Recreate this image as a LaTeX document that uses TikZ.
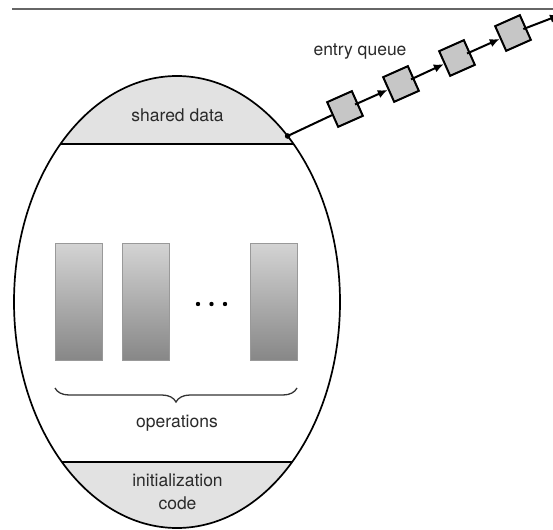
\documentclass[tikz,border=0pt]{standalone}
\usepackage{fontspec}
\setmainfont{TeX Gyre Heros}
\usetikzlibrary{arrows.meta,decorations.pathreplacing,calc}
\definecolor{capfill}{HTML}{E2E2E2}
\definecolor{qfill}{HTML}{C6C6C6}
\definecolor{txt}{HTML}{2A2A2A}
\begin{document}
\begin{tikzpicture}[x=1pt,y=-1pt,
  lbl/.style={font=\fontsize{17.5}{22.5}\selectfont, text=txt, inner sep=0pt, anchor=base},
  qbox/.style={draw=black, line width=2pt, fill=qfill, minimum size=27pt, inner sep=0pt, rotate=24},
  opbox/.style={draw=black!40, line width=0.6pt, top color=black!17, bottom color=black!47, minimum width=47pt, minimum height=117pt, inner sep=0pt},
  qline/.style={line width=2pt},
  qarrow/.style={qline, -{Latex[length=10pt,width=8.5pt]}},
  capline/.style={line width=1.5pt},
]
\useasboundingbox (0,0) rectangle (553,529);
% top rule
\draw[black!60, line width=1.4pt] (12,9) -- (553,9);
% monitor body
\begin{scope}
  \clip (177,302) ellipse [x radius=163, y radius=226];
  \fill[capfill] (0,0) rectangle (553,144);
  \fill[capfill] (0,462) rectangle (553,529);
  \draw[capline] (0,144) -- (553,144);
  \draw[capline] (0,462) -- (553,462);
\end{scope}
\draw[line width=1.7pt] (177,302) ellipse [x radius=163, y radius=226];
% labels
\node[lbl] (sd) at (177.5,121.5) {shared data};
\node[lbl] (eq) at (360,56) {entry queue};
\node[lbl] (ops) at (177,427) {operations};
\node[lbl] (init) at (177.5,486.5) {initialization};
\node[lbl] (code) at (177.5,509) {code};
% operations
\node[opbox] (op1) at (78.5,301.5) {};
\node[opbox] (op2) at (146,301.5) {};
\node[opbox] (op3) at (274,301.5) {};
\fill[black] (198,304) circle (2.2);
\fill[black] (211.5,304) circle (2.2);
\fill[black] (225,304) circle (2.2);
\draw[decorate, decoration={brace, mirror, amplitude=14pt}, line width=1.3pt, black!80] (55,388) -- (297,388);
% entry queue
\coordinate (d) at (287.6,136);
\node[qbox] (b1) at (345,109) {};
\node[qbox] (b2) at (401,84) {};
\node[qbox] (b3) at (457,58) {};
\node[qbox] (b4) at (513,33) {};
\coordinate (qend) at (560,15);
\draw[qline] (d) -- (b1);
\draw[qarrow] ($(b1.center)!11pt!(b2.center)$) -- (b2);
\draw[qarrow] ($(b2.center)!11pt!(b3.center)$) -- (b3);
\draw[qarrow] ($(b3.center)!11pt!(b4.center)$) -- (b4);
\draw[qarrow] ($(b4.center)!11pt!(qend)$) -- (qend);
\fill (d) circle (2.8);
\end{tikzpicture}
\end{document}
